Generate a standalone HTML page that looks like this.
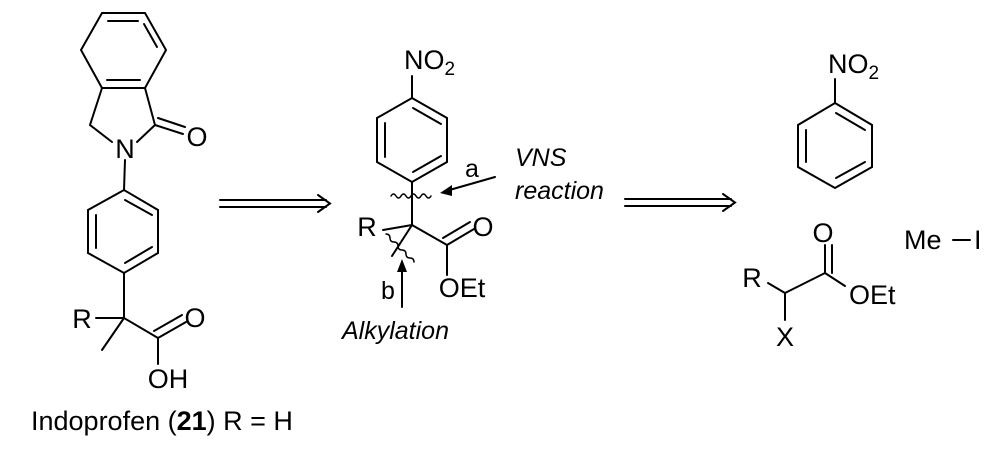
<!DOCTYPE html>
<html><head><meta charset="utf-8"><style>
html,body{margin:0;padding:0;background:#fff;width:991px;height:465px;overflow:hidden}
svg{display:block}
text{font-family:"Liberation Sans",Arial,sans-serif;fill:#000}
</style></head><body>
<svg width="991" height="465" viewBox="0 0 991 465" xmlns="http://www.w3.org/2000/svg">
<g stroke="#000" stroke-width="2" fill="none" stroke-linecap="round">
<polygon points="102,13 145,13 166,50 145,88 102,88 81,50"/>
<line x1="108" y1="21" x2="138" y2="21"/>
<line x1="144" y1="24" x2="157" y2="47"/>
<line x1="107" y1="80" x2="140" y2="80"/>
<polyline points="102,88 90,125 112,142"/>
<polyline points="145,88 155,125 137,142"/>
<line x1="155" y1="125" x2="183" y2="134"/>
<line x1="158" y1="118" x2="185" y2="127"/>
<line x1="125" y1="160" x2="124" y2="190"/>
<polygon points="124,190 158,210 158,253 124,273 88,253 88,210"/>
<line x1="125" y1="200" x2="152" y2="215"/>
<line x1="96" y1="215" x2="96" y2="248"/>
<line x1="125" y1="263" x2="152" y2="247"/>
<line x1="124" y1="273" x2="124" y2="318"/>
<line x1="96" y1="318" x2="124" y2="318"/>
<line x1="124" y1="318" x2="158" y2="338"/>
<line x1="124" y1="318" x2="102" y2="350"/>
<line x1="158" y1="338" x2="186" y2="322"/>
<line x1="154" y1="331" x2="182" y2="315"/>
<line x1="158" y1="338" x2="158" y2="364"/>
<line x1="220" y1="200" x2="326" y2="200"/>
<line x1="220" y1="207" x2="326" y2="207"/>
<polyline points="318,195 330,203.5 318,212"/>
<line x1="412" y1="76" x2="412" y2="98"/>
<polygon points="412,98 447,118 447,162 412,182 377,162 377,118"/>
<line x1="413" y1="108" x2="441" y2="124"/>
<line x1="385" y1="123" x2="385" y2="157"/>
<line x1="413" y1="172" x2="441" y2="156"/>
<line x1="412" y1="182" x2="412" y2="225"/>
<path d="M391,196 q2.5,-4 5,0 q2.5,4 5,0 q2.5,-4 5,0 q2.5,4 5,0 q2.5,-4 5,0 q2.5,4 5,0 q2.5,-4 5,0 q2.5,4 5,0" stroke-width="1.5"/>
<line x1="495" y1="177" x2="446" y2="191"/>
<line x1="383" y1="230" x2="412" y2="225"/>
<line x1="412" y1="225" x2="447" y2="245"/>
<line x1="412" y1="225" x2="392" y2="256"/>
<path d="M386,234 q4,0 4,4 q0,4 4,4 q4,0 4,4 q0,4 4,4 q4,0 4,4 q0,4 4,4 q4,0 4,4" stroke-width="1.5"/>
<line x1="447" y1="245" x2="474" y2="229"/>
<line x1="443" y1="238" x2="470" y2="222"/>
<line x1="447" y1="245" x2="447" y2="275"/>
<line x1="402" y1="307" x2="402" y2="266"/>
<line x1="625" y1="199" x2="731" y2="199"/>
<line x1="625" y1="206" x2="731" y2="206"/>
<polyline points="723,194 735,202.5 723,211"/>
<line x1="835" y1="79" x2="835" y2="103"/>
<polygon points="835,103 872,125 872,167 835,188 798,167 798,125"/>
<line x1="836" y1="113" x2="865" y2="130"/>
<line x1="806" y1="130" x2="806" y2="162"/>
<line x1="836" y1="178" x2="865" y2="162"/>
<line x1="768" y1="283" x2="785" y2="293"/>
<line x1="785" y1="293" x2="825" y2="273"/>
<line x1="825" y1="273" x2="825" y2="245"/>
<line x1="832" y1="273" x2="832" y2="245"/>
<line x1="825" y1="273" x2="845" y2="286"/>
<line x1="785" y1="293" x2="785" y2="320"/>
<line x1="953" y1="240" x2="970" y2="240"/>
</g>
<g fill="#000">
<polygon points="440,193 452,185 452,196"/>
<polygon points="402,259 397,272 407,272"/>
</g>
<g font-size="27">
<text x="125" y="158" text-anchor="middle">N</text>
<text x="197" y="146" text-anchor="middle">O</text>
<text x="82" y="328" text-anchor="middle">R</text>
<text x="195" y="327" text-anchor="middle">O</text>
<text x="168" y="388" text-anchor="middle">OH</text>
<text x="31" y="430" font-size="27">Indoprofen (<tspan font-weight="bold">21</tspan>) R = H</text>
<text x="404" y="69">NO<tspan font-size="19" dy="6">2</tspan></text>
<text x="472" y="177" text-anchor="middle" font-size="25">a</text>
<text x="515" y="166" font-style="italic" font-size="25">VNS</text>
<text x="515" y="199" font-style="italic" font-size="25">reaction</text>
<text x="367" y="236" text-anchor="middle">R</text>
<text x="483" y="236" text-anchor="middle">O</text>
<text x="462" y="297" text-anchor="middle">OEt</text>
<text x="388" y="299" text-anchor="middle" font-size="25">b</text>
<text x="342" y="339" font-style="italic" font-size="25">Alkylation</text>
<text x="828" y="73">NO<tspan font-size="19" dy="6">2</tspan></text>
<text x="823" y="242" text-anchor="middle">O</text>
<text x="752" y="287" text-anchor="middle">R</text>
<text x="849" y="304">OEt</text>
<text x="785" y="346" text-anchor="middle">X</text>
<text x="904" y="249">Me</text>
<text x="974" y="249">I</text>
</g>
</svg>
</body></html>
